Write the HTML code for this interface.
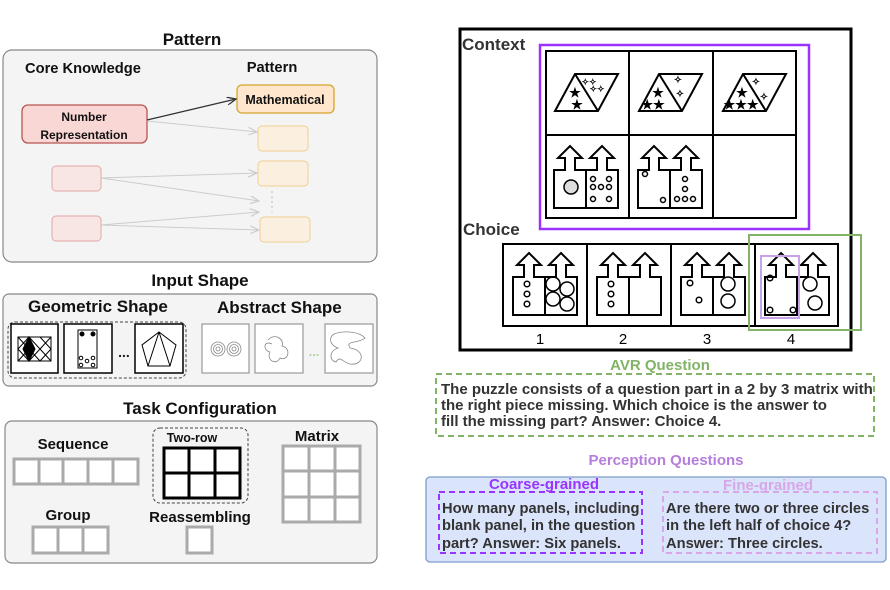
<!DOCTYPE html>
<html><head><meta charset="utf-8"><style>
html,body{margin:0;padding:0;background:#fff;}
svg{display:block;font-family:"Liberation Sans",Arial,sans-serif;font-weight:bold;}
</style></head><body>
<svg width="890" height="590" viewBox="0 0 890 590" xmlns="http://www.w3.org/2000/svg">
<defs>
<marker id="ab" markerWidth="10" markerHeight="8" refX="9" refY="4" orient="auto" markerUnits="userSpaceOnUse"><path d="M0,0 L9,4 L0,8" fill="none" stroke="#333" stroke-width="1.3"/></marker>
<marker id="ag" markerWidth="10" markerHeight="8" refX="9" refY="4" orient="auto" markerUnits="userSpaceOnUse"><path d="M0,0 L9,4 L0,8" fill="none" stroke="#ccc" stroke-width="1.2"/></marker>
<g id="castle" fill="#fff" stroke="#000" stroke-width="2">
<path d="M0,24 H11 V12 H4 L16,0 L28,12 H21 V24 H43 V12 H36 L48,0 L60,12 H53 V24 H64 V62 H0 Z"/>
<line x1="32" y1="24" x2="32" y2="62"/>
</g>
<g id="para" fill="#fff" stroke="#000" stroke-width="2">
<path d="M0,37 L20,0 L63,0 L43,37 Z M20,0 L43,37" fill="none"/>
</g>
</defs>

<!-- LEFT: Pattern -->
<text x="192" y="45" font-size="17" text-anchor="middle" fill="#111">Pattern</text>
<rect x="3" y="50" width="374" height="212" rx="9" fill="#f4f4f4" stroke="#888" stroke-width="1.2"/>
<text x="25" y="73" font-size="14.7" fill="#111">Core Knowledge</text>
<text x="272" y="72" font-size="14.7" text-anchor="middle" fill="#111">Pattern</text>
<rect x="237" y="85" width="97" height="28" rx="5" fill="#ffe6cc" stroke="#d6a52c" stroke-width="1.3"/>
<text x="285" y="104" font-size="12.5" text-anchor="middle" fill="#111">Mathematical</text>
<rect x="22" y="105" width="125" height="38" rx="6" fill="#f8d7d5" stroke="#b85450" stroke-width="1.3"/>
<text x="84" y="121" font-size="12" text-anchor="middle" fill="#111">Number</text>
<text x="84" y="139" font-size="12" text-anchor="middle" fill="#111">Representation</text>
<rect x="52" y="166" width="49" height="25" rx="4" fill="#f8e6e5" stroke="#e0a8a6" stroke-width="1"/>
<rect x="52" y="216" width="49" height="25" rx="4" fill="#f8e6e5" stroke="#e0a8a6" stroke-width="1"/>
<rect x="258" y="126" width="50" height="25" rx="4" fill="#fbefe0" stroke="#efd08f" stroke-width="1"/>
<rect x="258" y="161" width="50" height="25" rx="4" fill="#fbefe0" stroke="#efd08f" stroke-width="1"/>
<rect x="260" y="217" width="50" height="25" rx="4" fill="#fbefe0" stroke="#efd08f" stroke-width="1"/>
<line x1="147" y1="120" x2="236" y2="99" stroke="#333" stroke-width="1.3" marker-end="url(#ab)"/>
<g stroke="#ccc" stroke-width="1" marker-end="url(#ag)">
<line x1="147" y1="121" x2="257" y2="132"/>
<line x1="101" y1="178" x2="257" y2="173"/>
<line x1="101" y1="178" x2="259" y2="201"/>
<line x1="101" y1="225" x2="259" y2="212"/>
<line x1="101" y1="225" x2="259" y2="230"/>
</g>
<line x1="272" y1="191" x2="272" y2="212" stroke="#ccc" stroke-width="1.5" stroke-dasharray="2,3"/>

<!-- Input Shape -->
<text x="200" y="286" font-size="17" text-anchor="middle" fill="#111">Input Shape</text>
<rect x="3" y="294" width="374" height="92" rx="6" fill="#f4f4f4" stroke="#888" stroke-width="1.2"/>
<text x="28" y="312" font-size="17" fill="#111">Geometric Shape</text>
<text x="217" y="313" font-size="17" fill="#111">Abstract Shape</text>
<rect x="8" y="322" width="178" height="56" rx="7" fill="none" stroke="#444" stroke-width="1" stroke-dasharray="3,2"/>
<g fill="#fff" stroke="#000" stroke-width="1.5">
<rect x="11" y="324" width="47" height="49"/>
<rect x="64" y="324" width="48" height="49"/>
<rect x="135" y="324" width="48" height="49"/>
</g>
<g fill="none" stroke="#000" stroke-width="1">
<rect x="18" y="337" width="33" height="24"/>
<path d="M18,337 L29,349 L18,361 M29,337 L40,349 L29,361 L18,349 Z M40,337 L51,349 L40,361 L29,349 M51,337 L40,349 L51,361"/>
<path d="M29,337 L35,349 L29,361 L23,349 Z" fill="#000"/>
<rect x="78" y="330" width="19" height="38"/>
<circle cx="82" cy="334" r="2" fill="#000"/><circle cx="93" cy="334" r="2" fill="#000"/>
<circle cx="81" cy="358" r="1.8"/><circle cx="93" cy="358" r="1.8"/><circle cx="87" cy="361" r="1.8"/><circle cx="81" cy="365" r="1.8"/><circle cx="93" cy="365" r="1.8"/>
<path d="M159,332 L176,345 L170,366 L148,366 L142,345 Z M159,332 L148,366 M159,332 L170,366"/>
</g>
<text x="124" y="357" font-size="14" text-anchor="middle" fill="#222">...</text>
<g fill="#fff" stroke="#999" stroke-width="1.2">
<rect x="202" y="324" width="47" height="49"/>
<rect x="255" y="324" width="48" height="49"/>
<rect x="325" y="324" width="48" height="49"/>
</g>
<g fill="none" stroke="#888" stroke-width="0.8">
<circle cx="218" cy="349" r="7"/><circle cx="218" cy="349" r="4.5"/><circle cx="218" cy="349" r="2"/>
<circle cx="234" cy="349" r="7"/><circle cx="234" cy="349" r="4.5"/><circle cx="234" cy="349" r="2"/>
<path d="M268,340 C275,332 285,340 282,346 C292,348 288,362 280,358 C276,366 266,360 270,352 C262,350 264,340 272,344"/>
<path d="M334,334 C345,330 360,332 365,338 C358,344 345,340 350,348 C366,350 364,366 350,364 C342,362 340,355 336,362 C328,360 330,350 338,348 C330,345 328,338 334,334"/>
</g>
<text x="314" y="356" font-size="13" text-anchor="middle" fill="#b5d3a4">...</text>

<!-- Task configuration -->
<text x="200" y="414" font-size="17" text-anchor="middle" fill="#111">Task Configuration</text>
<rect x="5" y="421" width="372" height="142" rx="7" fill="#f4f4f4" stroke="#888" stroke-width="1.2"/>
<text x="73" y="449" font-size="15" text-anchor="middle" fill="#111">Sequence</text>
<g fill="#fff" stroke="#aaa" stroke-width="3">
<rect x="14" y="459" width="124" height="25"/>
<line x1="39" y1="459" x2="39" y2="484"/><line x1="63" y1="459" x2="63" y2="484"/><line x1="88" y1="459" x2="88" y2="484"/><line x1="113" y1="459" x2="113" y2="484"/>
<rect x="33" y="527" width="75" height="26"/>
<line x1="58" y1="527" x2="58" y2="553"/><line x1="83" y1="527" x2="83" y2="553"/>
<rect x="187" y="527" width="25" height="26"/>
<rect x="283" y="446" width="77" height="76"/>
<line x1="309" y1="446" x2="309" y2="522"/><line x1="335" y1="446" x2="335" y2="522"/>
<line x1="283" y1="471" x2="360" y2="471"/><line x1="283" y1="497" x2="360" y2="497"/>
</g>
<rect x="153" y="428" width="95" height="75" rx="7" fill="none" stroke="#444" stroke-width="1" stroke-dasharray="3,2"/>
<text x="192" y="442" font-size="12.5" text-anchor="middle" fill="#111">Two-row</text>
<g fill="#fff" stroke="#000" stroke-width="3">
<rect x="164" y="448" width="76" height="50"/>
<line x1="189" y1="448" x2="189" y2="498"/><line x1="215" y1="448" x2="215" y2="498"/>
<line x1="164" y1="473" x2="240" y2="473"/>
</g>
<text x="317" y="441" font-size="15" text-anchor="middle" fill="#111">Matrix</text>
<text x="68" y="520" font-size="15" text-anchor="middle" fill="#111">Group</text>
<text x="200" y="522" font-size="15" text-anchor="middle" fill="#111">Reassembling</text>

<!-- RIGHT: AVR puzzle -->
<rect x="460" y="29" width="391" height="321" fill="#fff" stroke="#000" stroke-width="3"/>
<text x="462" y="50" font-size="17" fill="#333">Context</text>
<text x="463" y="235" font-size="17" fill="#333">Choice</text>
<rect x="540" y="45" width="269" height="184" fill="none" stroke="#9933ff" stroke-width="2.5"/>
<g fill="#fff" stroke="#000" stroke-width="2">
<rect x="546" y="51" width="250" height="167"/>
<line x1="629" y1="51" x2="629" y2="218"/><line x1="713" y1="51" x2="713" y2="218"/>
<line x1="546" y1="135" x2="796" y2="135"/>
</g>
<use href="#para" x="555" y="74"/>
<use href="#para" x="639" y="74"/>
<use href="#para" x="723" y="74"/>
<g font-size="13" fill="#000" text-anchor="middle">
<text x="575" y="97">★</text><text x="577" y="109">★</text>
<text x="589" y="85" font-size="9">✧✧</text><text x="597" y="92" font-size="9">✧✧</text>
<text x="658" y="97">★</text><text x="653" y="109">★★</text>
<text x="678" y="83" font-size="10">✧</text><text x="680" y="97" font-size="10">✧</text>
<text x="742" y="97">★</text><text x="741" y="109">★★★</text>
<text x="756" y="85" font-size="10">✧</text><text x="764" y="100" font-size="10">✧</text>
</g>
<use href="#castle" x="554" y="146"/>
<use href="#castle" x="638" y="146"/>
<g fill="none" stroke="#000" stroke-width="1.5">
<circle cx="571" cy="187" r="7" fill="#ddd"/>
<circle cx="593" cy="179" r="2.5"/><circle cx="609" cy="179" r="2.5"/>
<circle cx="593" cy="187" r="2.5"/><circle cx="601" cy="187" r="2.5"/><circle cx="609" cy="187" r="2.5"/>
<circle cx="593" cy="199" r="2.5"/><circle cx="609" cy="199" r="2.5"/>
<circle cx="645" cy="174" r="2.5"/><circle cx="663" cy="200" r="2.5"/>
<circle cx="685" cy="179" r="2.5"/><circle cx="685" cy="189" r="2.5"/>
<circle cx="677" cy="199" r="2.5"/><circle cx="685" cy="199" r="2.5"/><circle cx="693" cy="199" r="2.5"/>
</g>

<g fill="#fff" stroke="#000" stroke-width="2">
<rect x="503" y="244" width="335" height="82"/>
<line x1="587" y1="244" x2="587" y2="326"/><line x1="671" y1="244" x2="671" y2="326"/><line x1="755" y1="244" x2="755" y2="326"/>
</g>
<use href="#castle" x="513" y="253"/>
<use href="#castle" x="597" y="253"/>
<use href="#castle" x="681" y="253"/>
<use href="#castle" x="765" y="253"/>
<g fill="none" stroke="#000" stroke-width="1.5">
<circle cx="527" cy="284" r="2.8"/><circle cx="527" cy="294" r="2.8"/><circle cx="527" cy="304" r="2.8"/>
<circle cx="553" cy="284" r="7"/><circle cx="567" cy="289" r="7"/><circle cx="553" cy="299" r="7"/><circle cx="567" cy="304" r="7"/>
<circle cx="611" cy="284" r="2.8"/><circle cx="611" cy="294" r="2.8"/><circle cx="611" cy="304" r="2.8"/>
<circle cx="690" cy="283" r="2.8"/><circle cx="699" cy="300" r="2.8"/>
<circle cx="728" cy="284" r="7"/><circle cx="728" cy="301" r="7"/>
<circle cx="770" cy="278" r="2.8"/><circle cx="770" cy="310" r="2.8"/><circle cx="793" cy="310" r="2.8"/>
<circle cx="810" cy="284" r="7"/><circle cx="815" cy="303" r="7"/>
</g>
<rect x="761" y="256" width="38" height="62" fill="none" stroke="#c8a2e8" stroke-width="2"/>
<rect x="749" y="235" width="112" height="95" fill="none" stroke="#82b366" stroke-width="2"/>
<g font-size="15" font-weight="normal" fill="#000" text-anchor="middle">
<text x="540" y="344">1</text><text x="623" y="344">2</text><text x="707" y="344">3</text><text x="791" y="344">4</text>
</g>

<!-- AVR Question -->
<text x="660" y="370" font-size="15" text-anchor="middle" fill="#82b366">AVR Question</text>
<rect x="436" y="374" width="438" height="62" fill="none" stroke="#82b366" stroke-width="2" stroke-dasharray="6,4"/>
<g font-size="15" fill="#333">
<text x="441" y="394">The puzzle consists of a question part in a 2 by 3 matrix with</text>
<text x="441" y="410">the right piece missing. Which choice is the answer to</text>
<text x="441" y="426">fill the missing part? Answer: Choice 4.</text>
</g>
<text x="666" y="465" font-size="15" text-anchor="middle" fill="#b57edc">Perception Questions</text>
<rect x="426" y="477" width="460" height="85" rx="4" fill="#dae4fb" stroke="#7e9ccc" stroke-width="1.3"/>
<text x="544" y="489" font-size="15" text-anchor="middle" fill="#9933ff">Coarse-grained</text>
<text x="768" y="490" font-size="15" text-anchor="middle" fill="#d7a7e8">Fine-grained</text>
<rect x="439" y="492" width="203" height="61" fill="none" stroke="#9933ff" stroke-width="2" stroke-dasharray="6,4"/>
<rect x="663" y="492" width="214" height="61" fill="none" stroke="#d7a7e8" stroke-width="2" stroke-dasharray="6,4"/>
<g font-size="14.7" fill="#333">
<text x="442" y="513">How many panels, including</text>
<text x="442" y="530">blank panel, in the question</text>
<text x="442" y="548">part? Answer: Six panels.</text>
<text x="666" y="513">Are there two or three circles</text>
<text x="666" y="530">in the left half of choice 4?</text>
<text x="666" y="548">Answer: Three circles.</text>
</g>
</svg>
</body></html>
